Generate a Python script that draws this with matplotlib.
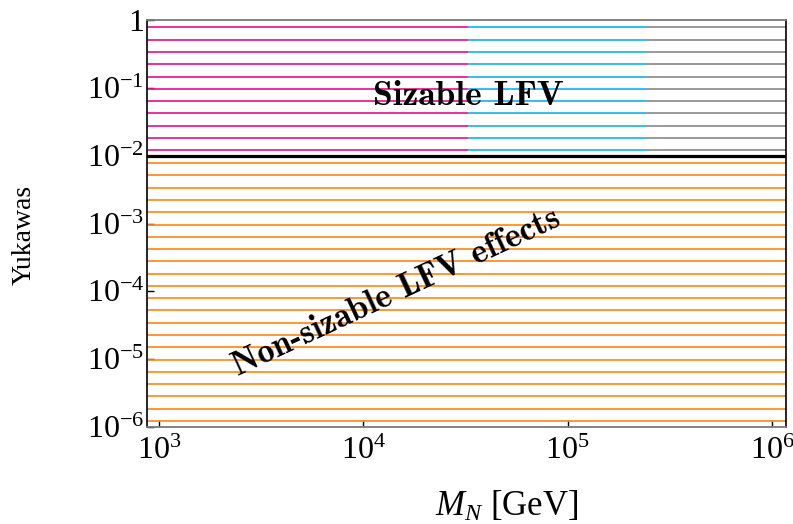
import matplotlib
matplotlib.use('Agg')
import matplotlib.pyplot as plt
import numpy as np

plt.rcParams['mathtext.fontset'] = 'custom'
plt.rcParams['mathtext.rm'] = 'Liberation Serif'
plt.rcParams['mathtext.it'] = 'Liberation Serif:italic'
plt.rcParams['mathtext.bf'] = 'Liberation Serif:bold'
plt.rcParams['mathtext.fallback'] = 'cm'
plt.rcParams['font.family'] = ['Liberation Serif', 'DejaVu Serif']

# regions: (x_lo, x_hi, y_lo, y_hi, colour)
region_x_lo = [873.5, 3.25e4, 2.43e5, 873.5]
region_x_hi = [3.25e4, 2.43e5, 1.171e6, 1.171e6]
region_y_lo = [1e-2, 1e-2, 1e-2, 1e-6]
region_y_hi = [1.0, 1.0, 1.0, 1e-2]
region_colors = ['#e8178a', '#1ab4ea', '#8c8c8c', '#ff8a1c']

threshold = 1e-2          # boundary line between the two regimes
x_range = [873.5, 1.171e6]
y_range = [1e-6, 1.0]

fig = plt.figure(figsize=(7.93, 5.24), dpi=100)
ax = fig.add_axes([0.1854, 0.1851, 0.8058, 0.7767])

# hatch lines (regular spacing on the log axis)
step = 0.181
for xl, xh, yl, yh, c in zip(region_x_lo, region_x_hi, region_y_lo, region_y_hi, region_colors):
    top = np.log10(yh) - 0.11
    ys = 10 ** np.arange(top, np.log10(yl) + 0.05, -step)
    ax.hlines(ys, xl, xh, colors=c, lw=1.25, zorder=2)

ax.axhline(threshold, color='black', lw=2.3, zorder=3)

ax.set_xscale('log')
ax.set_yscale('log')
ax.set_xlim(x_range)
ax.set_ylim(y_range)

ax.set_xticks([1e3, 1e4, 1e5, 1e6])
ax.set_xticklabels([r'$10^{3}$', r'$10^{4}$', r'$10^{5}$', r'$10^{6}$'])
ax.set_yticks([1e-6, 1e-5, 1e-4, 1e-3, 1e-2, 1e-1, 1])
ax.set_yticklabels([r'$10^{-6}$', r'$10^{-5}$', r'$10^{-4}$', r'$10^{-3}$',
                    r'$10^{-2}$', r'$10^{-1}$', r'$1$'])
ax.minorticks_off()
ax.tick_params(axis='both', direction='in', length=5, width=1.0, labelsize=23)
ax.tick_params(axis='x', pad=7)
ax.tick_params(axis='y', pad=2)

for s in ['top', 'bottom']:
    ax.spines[s].set_color('#7a7a7a')
    ax.spines[s].set_linewidth(1.3)
for s in ['left', 'right']:
    ax.spines[s].set_color('black')
    ax.spines[s].set_linewidth(1.2)

ax.set_xlabel(r'$M_N$ [GeV]', fontsize=25)
ax.xaxis.set_label_coords(0.563, -0.155)
ax.set_ylabel('Yukawas', fontsize=20)
ax.yaxis.set_label_coords(-0.172, 0.473)

ax.text(3.25e4, 0.074, 'Sizable LFV', family='cmb10', fontsize=25.5,
        ha='center', va='center', zorder=4)
ax.text(1.45e4, 0.95e-4, 'Non-sizable LFV effects', family='cmb10', fontsize=24.5,
        rotation=25, ha='center', va='center', zorder=4)

fig.savefig('out.png', dpi=100)
